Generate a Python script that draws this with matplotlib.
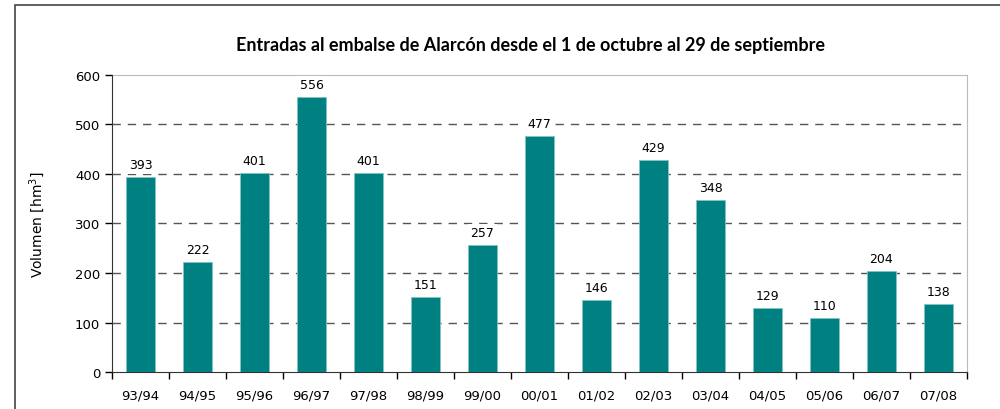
import matplotlib.pyplot as plt
from matplotlib.patches import Rectangle
import numpy as np

# Data
campaigns = ["93/94", "94/95", "95/96", "96/97", "97/98", "98/99", "99/00", "00/01",
             "01/02", "02/03", "03/04", "04/05", "05/06", "06/07", "07/08"]
volumes = [393, 222, 401, 556, 401, 151, 257, 477, 146, 429, 348, 129, 110, 204, 138]

plt.rcParams["font.family"] = "DejaVu Sans"

fig = plt.figure(figsize=(10, 4.1), dpi=100)
ax = fig.add_axes([0.112, 0.090, 0.855, 0.725])

# Outer frame (cropped at right and bottom)
fig.patches.append(Rectangle((0.015, -0.1), 1.2, 1.086, transform=fig.transFigure,
                             fill=False, edgecolor="#444444", linewidth=1.2))

x = np.arange(len(campaigns))
bars = ax.bar(x, volumes, width=0.51, color="#008080", edgecolor="#7fc4c4",
              linewidth=0.6, zorder=3)

for xi, v in zip(x, volumes):
    ax.text(xi, v + 12, str(v), ha="center", va="bottom", fontsize=9, color="black",
            zorder=4, clip_on=False,
            bbox=dict(facecolor="white", edgecolor="none", pad=1.5))

ax.set_xlim(-0.5, len(campaigns) - 0.5)
ax.set_ylim(0, 600)
ax.set_yticks(range(0, 601, 100))
ax.tick_params(axis="y", direction="out", length=5, labelsize=9.5, width=1)

# ticks between categories, labels centred
ax.set_xticks(np.arange(-0.5, len(campaigns), 1.0))
ax.set_xticklabels([])
ax.set_xticks(x, minor=True)
ax.set_xticklabels(campaigns, minor=True, fontsize=9.5)
ax.tick_params(axis="x", which="major", direction="out", length=5, width=1)
ax.tick_params(axis="x", which="minor", length=0, pad=12)

for y in range(100, 600, 100):
    ax.axhline(y, color="#555555", linestyle=(0, (6, 5)), linewidth=1, zorder=1)

ax.spines["left"].set_color("#333333")
ax.spines["bottom"].set_color("#333333")
ax.spines["top"].set_color("#bbbbbb")
ax.spines["right"].set_color("#bbbbbb")
ax.spines["top"].set_zorder(2)

ax.set_ylabel("Volumen [hm$^3$]", fontsize=10, labelpad=20)
fig.text(0.53, 0.89, "Entradas al embalse de Alarcón desde el 1 de octubre al 29 de septiembre",
         ha="center", va="center", fontsize=13, fontweight="bold", family="Lato")

fig.savefig("out.png", dpi=100)
